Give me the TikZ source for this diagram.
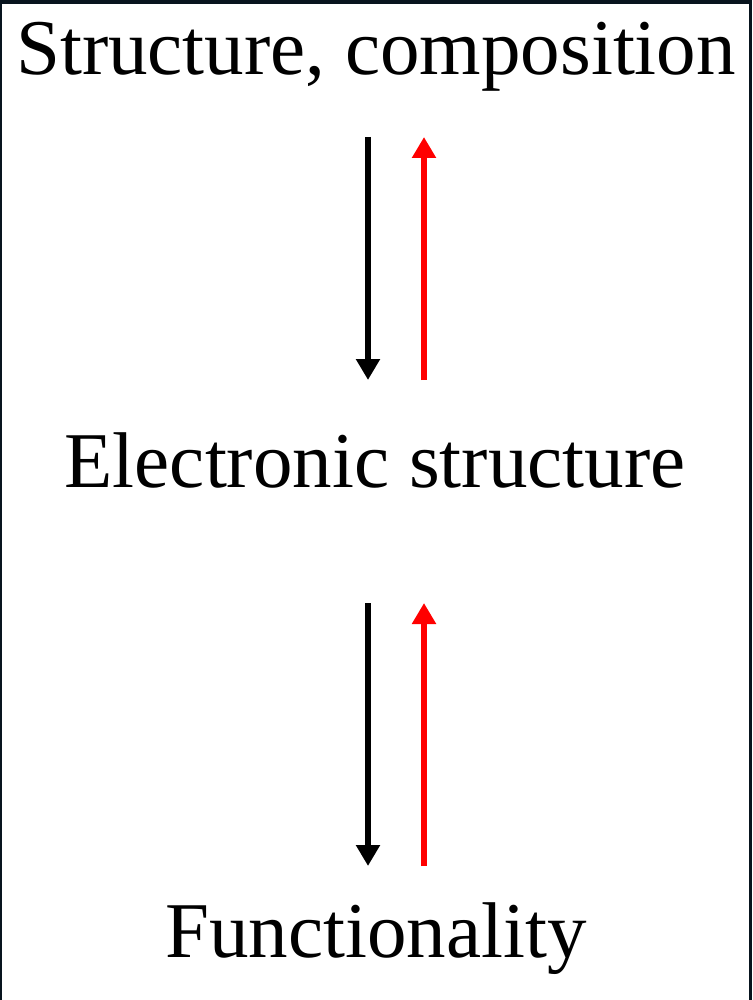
\documentclass[tikz,border=0pt]{standalone}
\usepackage{fontspec}
\setmainfont{Liberation Serif}
\usetikzlibrary{arrows.meta}
\definecolor{frame}{HTML}{08141E}
\tikzset{
  lbl/.style={anchor=base, inner sep=0pt, font=\fontsize{79}{79}\selectfont},
  dn/.style={line width=5.5pt, -{Triangle[width=23pt,length=21pt]}},
  up/.style={dn, red},
}
\begin{document}
\begin{tikzpicture}[x=1pt,y=-1pt]
\useasboundingbox (0,0) rectangle (752,1000);
\fill[frame] (0,0) rectangle (752,1000);
\fill[white] (2,4) rectangle (749,1000);
\node[lbl] (sc) at (376,75) {Structure, composition};
\node[lbl] (es) at (375,487) {Electronic structure};
\node[lbl] (fn) at (376,957) {Functionality};
\coordinate (a1) at (368,137);
\coordinate (a2) at (368,380);
\coordinate (b1) at (424,380);
\coordinate (b2) at (424,137);
\coordinate (c1) at (368,603);
\coordinate (c2) at (368,866);
\coordinate (d1) at (424,866);
\coordinate (d2) at (424,603);
\draw[dn] (a1) -- (a2);
\draw[up] (b1) -- (b2);
\draw[dn] (c1) -- (c2);
\draw[up] (d1) -- (d2);
\end{tikzpicture}
\end{document}
